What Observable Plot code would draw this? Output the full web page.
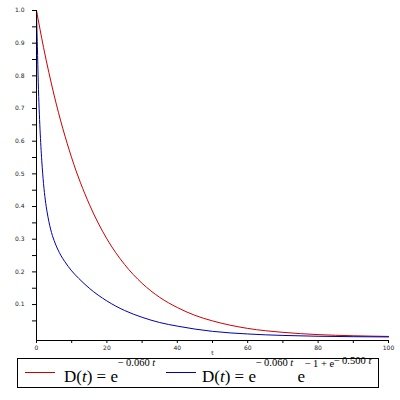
<!DOCTYPE html>
<html><head><meta charset="utf-8">
<script src="https://cdn.jsdelivr.net/npm/d3@7"></script>
<script src="https://cdn.jsdelivr.net/npm/@observablehq/plot@0.6"></script>
<style>
body{margin:0;background:#fff;width:400px;height:400px;overflow:hidden;position:relative;}
#chart{position:absolute;left:0;top:0;}
#legend{position:absolute;left:0;top:350px;}
#legend text{font-family:"Liberation Serif","Times New Roman",serif;fill:#000;}
</style></head><body>
<div id="chart"></div>
<svg id="legend" width="400" height="50" viewBox="0 350 400 50">
  <rect x="17.5" y="358.5" width="361" height="29" fill="none" stroke="#000" stroke-width="1"/>
  <line x1="25" x2="55" y1="372.5" y2="372.5" stroke="#cc0000" stroke-width="1"/>
  <text x="64" y="382" font-size="17">D(<tspan font-style="italic">t</tspan>) = e<tspan font-size="10.5" dy="-16">&#8722;&#8201;0.060 <tspan font-style="italic">t</tspan></tspan></text>
  <line x1="166" x2="196" y1="372.5" y2="372.5" stroke="#0000b0" stroke-width="1"/>
  <text x="202" y="382" font-size="17">D(<tspan font-style="italic">t</tspan>) = e<tspan font-size="10.5" dy="-16">&#8722;&#8201;0.060 <tspan font-style="italic">t</tspan></tspan><tspan dy="16"> e</tspan><tspan font-size="10.5" dy="-15">&#8722;&#8201;1 + e</tspan><tspan font-size="10.5" dy="-3">&#8722;&#8201;0.500 <tspan font-style="italic">t</tspan></tspan></text>
</svg>
<script>
const tRed = [0, 2, 5, 10, 15, 20, 25, 30, 35, 40, 45, 50, 60, 70, 80, 90, 100];
const dRed = [1.0, 0.887, 0.741, 0.549, 0.407, 0.301, 0.223, 0.165, 0.122, 0.091, 0.067, 0.050, 0.027, 0.015, 0.008, 0.0045, 0.0025];
const tBlue = [0, 0.1, 0.25, 0.5, 0.75, 1, 1.5, 2, 2.5, 3, 4, 5, 6, 7, 8, 10, 12, 15, 20, 25, 30, 35, 40, 45, 50, 60, 70, 80, 90, 100];
const dBlue = [1.0, 0.95, 0.89, 0.78, 0.70, 0.636, 0.54, 0.47, 0.42, 0.384, 0.331, 0.296, 0.270, 0.249, 0.232, 0.203, 0.18, 0.15, 0.111, 0.082, 0.061, 0.045, 0.034, 0.025, 0.018, 0.010, 0.0055, 0.003, 0.0017, 0.001];
const yMajor = [0.1, 0.2, 0.3, 0.4, 0.5, 0.6, 0.7, 0.8, 0.9, 1.0];
const yMinor = [0.05, 0.15, 0.25, 0.35, 0.45, 0.55, 0.65, 0.75, 0.85, 0.95];
const xMajor = [0, 20, 40, 60, 80, 100];
const xMinor = [10, 30, 50, 70, 90];

const red = tRed.map((t, i) => ({t, d: dRed[i]}));
const blue = tBlue.map((t, i) => ({t, d: dBlue[i]}));

const chart = Plot.plot({
  width: 400,
  height: 355,
  marginTop: 10,
  marginLeft: 36,
  marginRight: 12,
  marginBottom: 15,
  style: {fontFamily: "DejaVu Sans, sans-serif", fontSize: "6px", color: "#222", background: "#fff"},
  x: {domain: [0, 100]},
  y: {domain: [-0.01, 1]},
  marks: [
    Plot.line(red, {x: "t", y: "d", stroke: "#cc0000", strokeWidth: 1, curve: "monotone-x"}),
    Plot.line(blue, {x: "t", y: "d", stroke: "#0000b0", strokeWidth: 1, curve: "monotone-x"}),
    Plot.ruleX([0], {stroke: "#000"}),
    Plot.ruleY([-0.01], {stroke: "#000"}),
    Plot.axisY(yMajor, {tickSize: 4, tickPadding: 8, tickFormat: d3.format(".1f"), label: null, stroke: "#000"}),
    Plot.axisY(yMinor, {tickSize: 4, tickFormat: () => "", label: null, stroke: "#000"}),
    Plot.axisX(xMajor, {tickSize: 3, tickPadding: 2, label: "t", labelAnchor: "center", labelArrow: "none", labelOffset: 14, stroke: "#000"}),
    Plot.axisX(xMinor, {tickSize: 3, tickFormat: () => "", label: null, stroke: "#000"})
  ]
});
document.getElementById("chart").appendChild(chart);
</script>
</body></html>
